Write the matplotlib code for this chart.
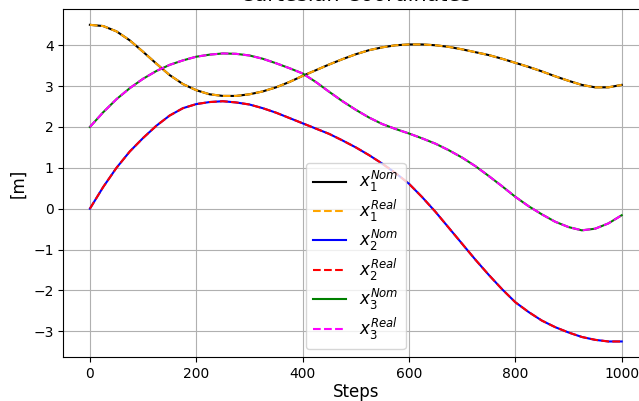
import numpy as np
import matplotlib
matplotlib.use("Agg")
import matplotlib.pyplot as plt

steps = [0, 25, 50, 75, 100, 125, 150, 175, 200, 225, 250, 275, 300, 325,
         350, 375, 400, 425, 450, 475, 500, 525, 550, 575, 600, 625, 650,
         675, 700, 725, 750, 775, 800, 825, 850, 875, 900, 925, 950, 975, 1000]

x1 = [4.50, 4.47, 4.34, 4.12, 3.84, 3.55, 3.27, 3.05, 2.90, 2.80, 2.76,
      2.76, 2.80, 2.87, 2.97, 3.10, 3.25, 3.39, 3.53, 3.66, 3.78, 3.88,
      3.95, 4.00, 4.02, 4.02, 4.00, 3.96, 3.90, 3.83, 3.76, 3.67, 3.57,
      3.47, 3.36, 3.24, 3.13, 3.03, 2.97, 2.97, 3.03]
x2 = [0.00, 0.53, 1.00, 1.40, 1.73, 2.03, 2.28, 2.46, 2.56, 2.61, 2.63,
      2.60, 2.55, 2.46, 2.35, 2.22, 2.09, 1.96, 1.83, 1.67, 1.50, 1.31,
      1.10, 0.87, 0.61, 0.28, -0.08, -0.47, -0.86, -1.25, -1.62, -1.97,
      -2.29, -2.53, -2.74, -2.90, -3.03, -3.14, -3.21, -3.25, -3.25]
x3 = [2.00, 2.36, 2.68, 2.95, 3.18, 3.37, 3.52, 3.63, 3.72, 3.77, 3.80,
      3.79, 3.75, 3.67, 3.56, 3.44, 3.31, 3.10, 2.86, 2.63, 2.42, 2.23,
      2.07, 1.95, 1.84, 1.72, 1.59, 1.43, 1.25, 1.04, 0.80, 0.55, 0.29,
      0.06, -0.14, -0.32, -0.45, -0.53, -0.49, -0.36, -0.16]

fig = plt.figure(figsize=(6.39, 4.01), dpi=100)
ax = fig.add_axes([63.3 / 639, 43.7 / 401, 585 / 639, 348.3 / 401])

ax.plot(steps, x1, color='black', ls='-', label=r'$x_1^{Nom}$')
ax.plot(steps, x1, color='orange', ls='--', label=r'$x_1^{Real}$')
ax.plot(steps, x2, color='blue', ls='-', label=r'$x_2^{Nom}$')
ax.plot(steps, x2, color='red', ls='--', label=r'$x_2^{Real}$')
ax.plot(steps, x3, color='green', ls='-', label=r'$x_3^{Nom}$')
ax.plot(steps, x3, color='magenta', ls='--', label=r'$x_3^{Real}$')

ax.set_title('Cartesian Coordinates', fontsize=15)
ax.set_xlabel('Steps', fontsize=12, labelpad=1.5)
ax.set_ylabel('[m]', fontsize=12)
ax.grid(True)
ax.legend(loc='lower center', fontsize=12, labelspacing=0.23)

fig.savefig('out.png', dpi=100)
